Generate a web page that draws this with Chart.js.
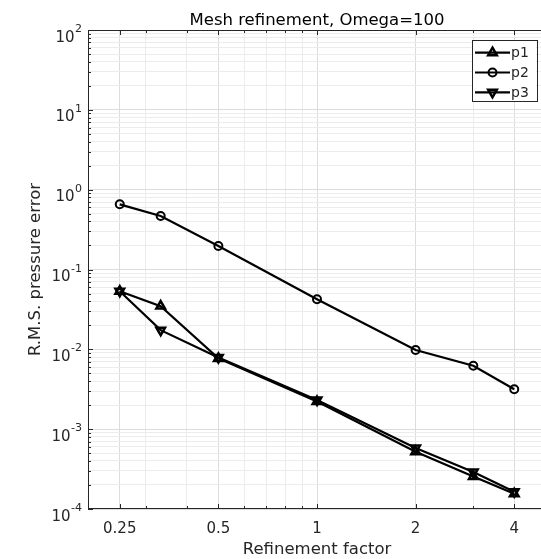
<!DOCTYPE html>
<html>
<head>
<meta charset="utf-8">
<title>Mesh refinement</title>
<script src="https://cdn.jsdelivr.net/npm/chart.js@4.4.1/dist/chart.umd.min.js"></script>
<style>
    html, body { margin: 0; padding: 0; background: #ffffff; overflow: hidden; }
    canvas { display: block; }
</style>
</head>
<body>
<canvas id="mesh-chart" width="560" height="559"></canvas>
<script>
'use strict';

// Refinement factor (x) and R.M.S. pressure error per element order
const refinement = [0.25, 0.3333, 0.5, 1, 2, 3, 4];
const p1Error = [0.0535, 0.0348, 0.0077, 0.00222, 0.00052, 0.000255, 0.000155];
const p2Error = [0.655, 0.468, 0.197, 0.0425, 0.0098, 0.00624, 0.00316];
const p3Error = [0.0535, 0.0174, 0.0079, 0.00232, 0.00058, 0.00029, 0.000165];

// Axis ticks
const xMajorTicks = [0.25, 0.5, 1, 2, 4];
const xMinorTicks = [0.3, 0.4, 0.6, 0.7, 0.8, 0.9, 3];
const yDecades = [-4, -3, -2, -1, 0, 1, 2];

const chartTitle = 'Mesh refinement, Omega=100';
const xTitle = 'Refinement factor';
const yTitle = 'R.M.S. pressure error';

const FONT = '"DejaVu Sans", sans-serif';
const AXIS_COLOR = '#262626';

// Log minor ticks 2..9 inside every decade
function decadeTicks() {
    let ticks = [];
    for (let i = 0; i < yDecades.length; i++) {
        let base = Math.pow(10, yDecades[i]);
        ticks.push({ value: base, major: true });
        if (i < yDecades.length - 1) {
            for (let m = 2; m <= 9; m++) {
                ticks.push({ value: m * base, major: false });
            }
        }
    }
    return ticks;
}

function refinementTicks() {
    let ticks = xMajorTicks.map(v => ({ value: v, major: true }));
    xMinorTicks.forEach(v => ticks.push({ value: v, major: false }));
    return ticks.sort((a, b) => a.value - b.value);
}

function toPoints(values) {
    return values.map((v, i) => ({ x: refinement[i], y: v }));
}

// Marker shapes for the legend
function drawMarker(ctx, style, x, y, r, rotation) {
    ctx.beginPath();
    if (style == 'circle') {
        ctx.arc(x, y, r, 0, Math.PI * 2);
    } else {
        let rad = rotation * Math.PI / 180;
        for (let k = 0; k < 3; k++) {
            let a = rad + k * 2 * Math.PI / 3;
            let px = x + Math.sin(a) * r;
            let py = y - Math.cos(a) * r;
            if (k == 0) ctx.moveTo(px, py); else ctx.lineTo(px, py);
        }
        ctx.closePath();
    }
    ctx.stroke();
}

// Box, inward ticks, labels, titles and legend
const axesDecor = {
    id: 'axesDecor',
    afterDraw(chart) {
        const ctx = chart.ctx;
        const area = chart.chartArea;
        const xs = chart.scales.x;
        const ys = chart.scales.y;

        ctx.save();
        ctx.strokeStyle = AXIS_COLOR;
        ctx.lineWidth = 1;
        ctx.strokeRect(area.left + 0.5, area.top + 0.5, area.right - area.left - 1, area.bottom - area.top - 1);

        // Tick marks pointing into the plot
        ctx.beginPath();
        xs.ticks.forEach(t => {
            let px = Math.round(xs.getPixelForValue(t.value)) + 0.5;
            let len = t.major ? 5 : 3;
            ctx.moveTo(px, area.bottom);
            ctx.lineTo(px, area.bottom - len);
            ctx.moveTo(px, area.top);
            ctx.lineTo(px, area.top + len);
        });
        ys.ticks.forEach(t => {
            let py = Math.round(ys.getPixelForValue(t.value)) + 0.5;
            let len = t.major ? 5 : 3;
            ctx.moveTo(area.left, py);
            ctx.lineTo(area.left + len, py);
            ctx.moveTo(area.right, py);
            ctx.lineTo(area.right - len, py);
        });
        ctx.stroke();

        // X tick labels
        ctx.fillStyle = AXIS_COLOR;
        ctx.font = '15px ' + FONT;
        ctx.textAlign = 'center';
        ctx.textBaseline = 'alphabetic';
        xMajorTicks.forEach(v => {
            ctx.fillText(String(v), xs.getPixelForValue(v), area.bottom + 24);
        });

        // Y tick labels as 10 with a raised exponent
        yDecades.forEach(k => {
            let py = ys.getPixelForValue(Math.pow(10, k));
            let exp = String(k);
            let right = area.left - 6;
            ctx.font = '11px ' + FONT;
            ctx.textAlign = 'right';
            ctx.fillText(exp, right, py + 2);
            let expWidth = ctx.measureText(exp).width;
            ctx.font = '15px ' + FONT;
            ctx.fillText('10', right - expWidth - 0.5, py + 11.5);
        });

        // Axis titles and chart title
        let midX = (area.left + area.right) / 2;
        let midY = (area.top + area.bottom) / 2;
        ctx.textAlign = 'center';
        ctx.font = '16.5px ' + FONT;
        ctx.fillText(xTitle, midX, area.bottom + 45);
        ctx.save();
        ctx.translate(40, midY);
        ctx.rotate(-Math.PI / 2);
        ctx.fillText(yTitle, 0, 0);
        ctx.restore();
        ctx.fillStyle = '#000000';
        ctx.fillText(chartTitle, midX, area.top - 5);

        // Legend in the upper right corner
        let boxRight = area.right - 10;
        let boxTop = area.top + 10;
        let boxLeft = boxRight - 64.5;
        let boxHeight = 61;
        ctx.fillStyle = '#ffffff';
        ctx.fillRect(boxLeft, boxTop, boxRight - boxLeft, boxHeight);
        ctx.strokeStyle = AXIS_COLOR;
        ctx.lineWidth = 1;
        ctx.strokeRect(Math.round(boxLeft) + 0.5, boxTop + 0.5, Math.round(boxRight - boxLeft), boxHeight);

        ctx.font = '14px ' + FONT;
        ctx.textAlign = 'left';
        ctx.textBaseline = 'middle';
        chart.data.datasets.forEach((ds, i) => {
            let ly = boxTop + 12.7 + i * 19.8;
            ctx.strokeStyle = ds.borderColor;
            ctx.lineWidth = ds.borderWidth;
            ctx.beginPath();
            ctx.moveTo(boxLeft + 3.5, ly);
            ctx.lineTo(boxLeft + 38.5, ly);
            ctx.stroke();
            ctx.lineWidth = ds.pointBorderWidth;
            drawMarker(ctx, ds.pointStyle, boxLeft + 21, ly, ds.pointRadius, ds.pointRotation || 0);
            ctx.fillStyle = AXIS_COLOR;
            ctx.fillText(ds.label, boxLeft + 39.5, ly + 1);
        });
        ctx.restore();
    }
};

function gridColor(context) {
    return context.tick && context.tick.major ? '#dcdcdc' : '#ececec';
}

const series = [
    { label: 'p1', data: toPoints(p1Error), pointStyle: 'triangle', pointRadius: 5, pointRotation: 0 },
    { label: 'p2', data: toPoints(p2Error), pointStyle: 'circle', pointRadius: 4, pointRotation: 0 },
    { label: 'p3', data: toPoints(p3Error), pointStyle: 'triangle', pointRadius: 5, pointRotation: 180 }
];

series.forEach(ds => {
    ds.borderColor = '#000000';
    ds.borderWidth = 2.2;
    ds.pointBorderColor = '#000000';
    ds.pointBackgroundColor = 'rgba(0,0,0,0)';
    ds.pointBorderWidth = ds.pointStyle == 'circle' ? 2 : 2.5;
    ds.pointHoverRadius = ds.pointRadius;
    ds.tension = 0;
    ds.fill = false;
});

const ctx = document.getElementById('mesh-chart').getContext('2d');
const chart = new Chart(ctx, {
    type: 'line',
    data: { datasets: series },
    options: {
        responsive: false,
        animation: false,
        layout: {
            padding: { left: 88, right: 14, top: 30, bottom: 50 }
        },
        plugins: {
            legend: { display: false },
            title: { display: false },
            tooltip: { enabled: false }
        },
        scales: {
            x: {
                type: 'logarithmic',
                min: 0.2,
                max: 5,
                afterBuildTicks: (scale) => { scale.ticks = refinementTicks(); },
                ticks: { display: false },
                grid: { color: gridColor, lineWidth: 1, drawTicks: false },
                border: { display: false }
            },
            y: {
                type: 'logarithmic',
                min: 1e-4,
                max: 1e2,
                afterBuildTicks: (scale) => { scale.ticks = decadeTicks(); },
                ticks: { display: false },
                grid: { color: gridColor, lineWidth: 1, drawTicks: false },
                border: { display: false }
            }
        }
    },
    plugins: [axesDecor]
});
</script>
</body>
</html>
